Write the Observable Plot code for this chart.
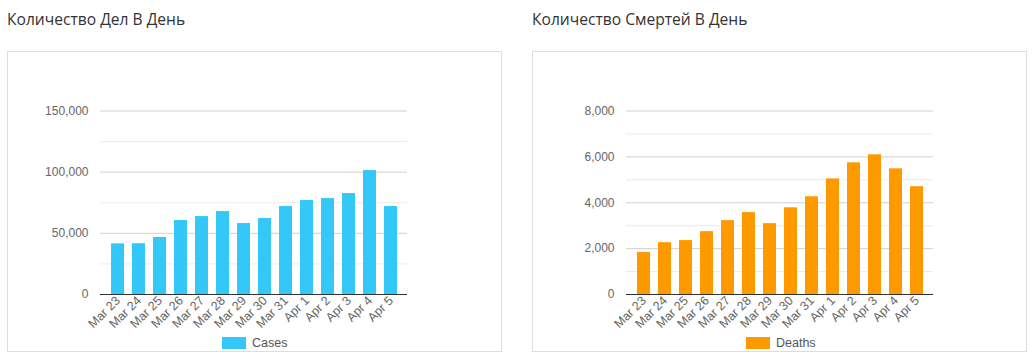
<!DOCTYPE html>
<html><head><meta charset="utf-8">
<script src="https://cdn.jsdelivr.net/npm/d3@7"></script>
<script src="https://cdn.jsdelivr.net/npm/@observablehq/plot@0.6"></script>
<style>
body{margin:0;background:#fff;width:1032px;height:358px;position:relative;overflow:hidden;font-family:"Liberation Sans",Arial,sans-serif}
.title{position:absolute;top:8px;font-family:"Open Sans","Noto Sans",sans-serif;font-size:15.6px;color:#333;white-space:nowrap}
.box{position:absolute;top:51px;width:495px;height:301px;border:1px solid #ddd;box-sizing:border-box}
.chart{position:absolute;left:0;top:0}
.leg{position:absolute;top:337px;height:12px;display:flex;align-items:center;font-size:12.5px;color:#555;white-space:nowrap}
.sw{width:24px;height:12px;margin-right:6px}
</style>
</head><body>
<div class="title" style="left:7px">Количество Дел В День</div>
<div class="title" style="left:532px">Количество Смертей В День</div>
<div class="box" id="boxL" style="left:7px"><div class="chart" id="chartL"></div></div>
<div class="box" id="boxR" style="left:532px"><div class="chart" id="chartR"></div></div>
<div class="leg" id="legL" style="left:222px"></div>
<div class="leg" id="legR" style="left:746px"></div>
<script>
const days = ["Mar 23","Mar 24","Mar 25","Mar 26","Mar 27","Mar 28","Mar 29","Mar 30","Mar 31","Apr 1","Apr 2","Apr 3","Apr 4","Apr 5"];
const cases = [41400,41500,46600,60500,63700,67800,58000,62100,71900,76800,78400,82500,101300,71900];
const deaths = [1830,2260,2350,2740,3220,3570,3090,3780,4260,5040,5740,6090,5480,4700];
const casesTicks = [0,50000,100000,150000];
const casesMinor = [25000,75000,125000];
const deathsTicks = [0,2000,4000,6000,8000];
const deathsMinor = [1000,3000,5000,7000];
const casesName = "Cases";
const deathsName = "Deaths";
const casesColor = "#33c8f7";
const deathsColor = "#ff9900";

function chart(values, ticks, minor, color, maxY, ml, mr) {
  const data = days.map((d, i) => ({day: d, value: values[i]}));
  return Plot.plot({
    width: 493, height: 282,
    marginLeft: ml, marginRight: mr, marginTop: 58.5, marginBottom: 40,
    style: {fontFamily: '"Liberation Sans", Arial, sans-serif', fontSize: "12px", color: "#666", background: "transparent"},
    x: {domain: days, padding: 0.4, label: null},
    y: {domain: [0, maxY], label: null},
    marks: [
      Plot.ruleY(minor, {stroke: "#ebebeb", strokeOpacity: 1}),
      Plot.ruleY(ticks.filter(t => t > 0), {stroke: "#d0d0d0", strokeOpacity: 1}),
      Plot.barY(data, {x: "day", y: "value", fill: color}),
      Plot.ruleY([0], {stroke: "#333", strokeOpacity: 1}),
      Plot.axisY({ticks: ticks, tickSize: 0, tickPadding: 12, tickFormat: d3.format(","), label: null, fill: "#666"}),
      Plot.axisX({tickSize: 0, tickPadding: 4, tickRotate: -45, label: null, fill: "#666", fontSize: 12.5})
    ]
  });
}
document.getElementById("chartL").append(chart(cases, casesTicks, casesMinor, casesColor, 150000, 92, 94));
document.getElementById("chartR").append(chart(deaths, deathsTicks, deathsMinor, deathsColor, 8000, 93, 93));
function legend(id, name, color) {
  const el = document.getElementById(id);
  const sw = document.createElement("div"); sw.className = "sw"; sw.style.background = color;
  const t = document.createElement("span"); t.textContent = name;
  el.append(sw, t);
}
legend("legL", casesName, casesColor);
legend("legR", deathsName, deathsColor);
</script>
</body></html>
